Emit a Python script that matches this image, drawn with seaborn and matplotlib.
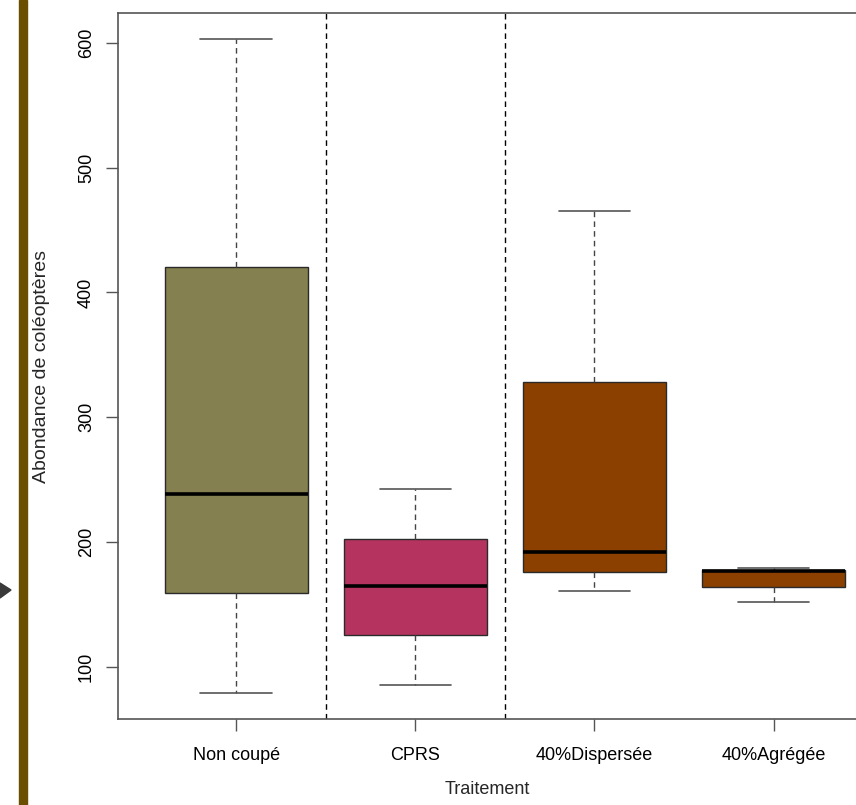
import numpy as np
import pandas as pd
import matplotlib
matplotlib.use("Agg")
import matplotlib.pyplot as plt
from matplotlib.patches import Rectangle, Polygon
import seaborn as sns

# data (min, Q1, median, Q3, max)
traitements = ["Non coupé", "CPRS", "40%Dispersée", "40%Agrégée"]
non_coupe = [79, 159, 238, 420, 603]
cprs = [85, 125, 165, 202, 242]
dispersee = [161, 176, 192, 328, 465]
agregee = [152, 164, 176.5, 177.8, 179]
box_colors = ["#84804f", "#b5345f", "#8b4000", "#8b4000"]
yticks = [100, 200, 300, 400, 500, 600]

df = pd.DataFrame({
    "Traitement": np.repeat(traitements, 5),
    "Abondance": non_coupe + cprs + dispersee + agregee,
})

sns.set_style("ticks")
plt.rcParams["font.family"] = ["Liberation Sans", "DejaVu Sans"]

fig = plt.figure(figsize=(8.56, 8.05), dpi=100)
ax = fig.add_axes([118 / 856, 1 - 719 / 805, 1 - 118 / 856, (719 - 13) / 805])

frame = "#555555"
dash = (0, (4, 3))

sns.boxplot(
    data=df, x="Traitement", y="Abondance", hue="Traitement",
    order=traitements, hue_order=traitements,
    palette=dict(zip(traitements, box_colors)), saturation=1,
    width=0.8, whis=(0, 100), linecolor="#2a2a2a", linewidth=1,
    legend=False, ax=ax,
    whiskerprops=dict(linestyle=dash, color="#444444", linewidth=1),
    capprops=dict(color="#555555", linewidth=1.2),
    medianprops=dict(color="black", linewidth=2.6),
)

# separators between the first three groups
for xv in [0.5, 1.5]:
    ax.axvline(xv, color="black", linestyle=dash, linewidth=1)

ax.set_xlim(-0.66, 3.46)
ax.set_ylim(58, 624)
ax.set_yticks(yticks)
ax.set_yticklabels([str(v) for v in yticks], rotation=90, va="center")

ax.spines["right"].set_visible(False)
for s in ["left", "bottom", "top"]:
    ax.spines[s].set_color(frame)
    ax.spines[s].set_linewidth(1.2)

ax.tick_params(axis="both", direction="out", length=8.5, width=1, color=frame,
               labelsize=13, labelcolor="black")
ax.tick_params(axis="x", pad=12)
ax.tick_params(axis="y", pad=8)

ax.set_xlabel("Traitement", fontsize=13)
ax.set_ylabel("Abondance de coléoptères", fontsize=14)
ax.xaxis.set_label_coords(0.5, -0.088)
ax.yaxis.set_label_coords(-0.092, 0.5)

# slide decoration on the left
fig.add_artist(Rectangle((19 / 856, 0), 8 / 856, 1, transform=fig.transFigure,
                         color="#6b4f00", zorder=0))
fig.add_artist(Polygon([(0, 1 - 583 / 805), (11 / 856, 1 - 590 / 805), (0, 1 - 598 / 805)],
                       closed=True, transform=fig.transFigure, color="#3a3a3a"))

fig.savefig("out.png", dpi=100)
plt.close(fig)
